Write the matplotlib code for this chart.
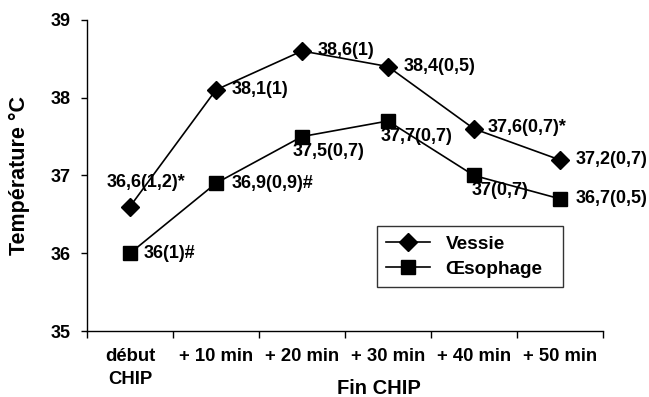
import matplotlib
matplotlib.use("Agg")
from matplotlib import pyplot as plt
from matplotlib.ticker import FixedLocator

plt.rcParams['font.family'] = ['Liberation Sans', 'DejaVu Sans']
plt.rcParams['font.weight'] = 'bold'

categories = ["début\nCHIP", "+ 10 min", "+ 20 min", "+ 30 min", "+ 40 min", "+ 50 min"]
vessie = [36.6, 38.1, 38.6, 38.4, 37.6, 37.2]
oesophage = [36.0, 36.9, 37.5, 37.7, 37.0, 36.7]
vessieLabels = ["36,6(1,2)*", "38,1(1)", "38,6(1)", "38,4(0,5)", "37,6(0,7)*", "37,2(0,7)"]
oesophageLabels = ["36(1)#", "36,9(0,9)#", "37,5(0,7)", "37,7(0,7)", "37(0,7)", "36,7(0,5)"]

# label offsets in points
vessieOffsets = [(-16.5, 17), (11, 0), (11.5, 0.7), (11, 0), (10, 1), (11, 0)]
oesophageOffsets = [(10, 0), (11, 0), (-7, -11), (-5, -11.5), (-1.5, -10.5), (11, 0)]

fig = plt.figure(figsize=(6.49, 3.97), dpi=100)
ax = fig.add_axes([0.134, 0.166, 0.795, 0.784])

x = list(range(len(categories)))
ax.plot(x, vessie, color='k', lw=1.2, marker='D', ms=9, label='Vessie')
ax.plot(x, oesophage, color='k', lw=1.2, marker='s', ms=10, label='Œsophage')

for xi, yi, lab, off in zip(x, vessie, vessieLabels, vessieOffsets):
    ax.annotate(lab, (xi, yi), xytext=off, textcoords='offset points',
                ha='left', va='center', fontsize=13, fontweight='bold')
for xi, yi, lab, off in zip(x, oesophage, oesophageLabels, oesophageOffsets):
    ax.annotate(lab, (xi, yi), xytext=off, textcoords='offset points',
                ha='left', va='center', fontsize=13, fontweight='bold')

ax.set_xlim(-0.5, len(categories) - 0.5)
ax.set_ylim(35, 39)
ax.set_yticks([35, 36, 37, 38, 39])
ax.tick_params(axis='y', direction='out', length=4, width=1, pad=8, labelsize=13)

ax.xaxis.set_major_locator(FixedLocator([i - 0.5 for i in range(len(categories) + 1)]))
ax.xaxis.set_minor_locator(FixedLocator(x))
ax.set_xticklabels([])
ax.set_xticklabels(categories, minor=True, linespacing=1.45)
ax.tick_params(axis='x', which='major', direction='out', length=5, width=1)
ax.tick_params(axis='x', which='minor', length=0, pad=12, labelsize=13.3)

for s in ['top', 'right']:
    ax.spines[s].set_visible(False)
for s in ['left', 'bottom']:
    ax.spines[s].set_linewidth(1)

ax.set_ylabel("Température °C", fontsize=15.5, fontweight='bold')
ax.yaxis.set_label_coords(-0.110, 0.5)
ax.set_xlabel("Fin CHIP", fontsize=14.5, fontweight='bold')
ax.xaxis.set_label_coords(0.566, -0.155)

leg = ax.legend(loc='lower left', bbox_to_anchor=(0.562, 0.1415, 0.36, 0.19),
                mode='expand', fontsize=13.7, frameon=True, fancybox=False,
                borderaxespad=0, handlelength=2.3, borderpad=0.5, labelspacing=0.4)
leg.get_frame().set_edgecolor('k')
leg.get_frame().set_linewidth(1)

fig.savefig("out.png", dpi=100)
